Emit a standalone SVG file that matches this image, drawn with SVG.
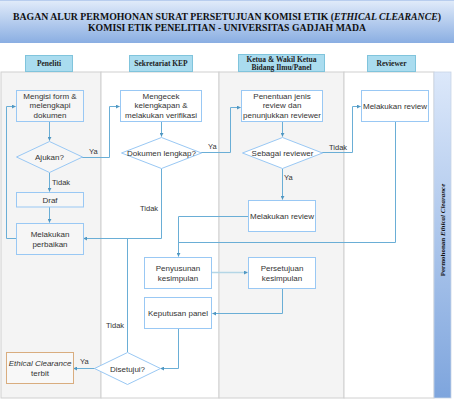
<svg xmlns="http://www.w3.org/2000/svg" width="454" height="400" viewBox="0 0 454 400">
<defs>
<linearGradient id="gBanner" x1="0" y1="0" x2="0" y2="1"><stop offset="0" stop-color="#e2ecfa"/><stop offset="1" stop-color="#8aaee2"/></linearGradient>
<linearGradient id="gBar" x1="0" y1="0" x2="0" y2="1"><stop offset="0" stop-color="#dce8fa"/><stop offset="1" stop-color="#7ea5dd"/></linearGradient>
<marker id="arr" viewBox="0 0 6 6" refX="5.5" refY="3" markerWidth="4" markerHeight="4" orient="auto"><path d="M0,0 L6,3 L0,6 z" fill="#4f97c2"/></marker>
<marker id="arr2" viewBox="0 0 6 6" refX="5.5" refY="3" markerWidth="2.5" markerHeight="2.5" orient="auto"><path d="M0,0 L6,3 L0,6 z" fill="#4f97c2"/></marker>
<style>
.lane-g{fill:#f4f4f4;stroke:#d0d0d0;stroke-width:1}
.lane-w{fill:#ffffff;stroke:#d0d0d0;stroke-width:1}
.hdr{fill:#aadcef;stroke:#80c4dc;stroke-width:1}
.hdrt{font-family:"Liberation Serif",serif;font-weight:bold;font-size:7.5px;fill:#222;text-anchor:middle}
.box{fill:#ffffff;stroke:#99c8f4;stroke-width:1}
.boxg{fill:#f6f6f6;stroke:#99c8f4;stroke-width:1}
.t{font-family:"Liberation Sans",Arial,sans-serif;font-size:8px;fill:#333;text-anchor:middle}
.lbl{font-family:"Liberation Sans",Arial,sans-serif;font-size:7.5px;fill:#333}
.c{fill:none;stroke:#6aaed6;stroke-width:1}
.ttl{font-family:"Liberation Serif",serif;font-weight:bold;font-size:9.5px;fill:#111;text-anchor:middle}
</style>
</defs>
<g id="banner">
<rect x="0" y="0" width="454" height="43" fill="url(#gBanner)"/>
<line x1="0" y1="0.5" x2="454" y2="0.5" stroke="#b8cdee"/>
<text class="ttl" x="227" y="19.5" textLength="428" lengthAdjust="spacingAndGlyphs">BAGAN ALUR PERMOHONAN SURAT PERSETUJUAN KOMISI ETIK (<tspan font-style="italic">ETHICAL CLEARANCE</tspan>)</text>
<text class="ttl" x="227" y="31" textLength="278" lengthAdjust="spacingAndGlyphs">KOMISI ETIK PENELITIAN - UNIVERSITAS GADJAH MADA</text>
</g>
<g id="lanes">
<rect class="lane-g" x="1" y="72" width="100" height="326"/>
<rect class="lane-w" x="101" y="72" width="118" height="326"/>
<rect class="lane-g" x="219" y="72" width="125" height="326"/>
<rect class="lane-w" x="344" y="72" width="90" height="326"/>
<rect x="434" y="72" width="17" height="326" fill="url(#gBar)" stroke="#c8d4e6" stroke-width="0.8"/>
<text x="444.5" y="230" transform="rotate(-90 444.5 230)" style="font-family:'Liberation Serif',serif;font-weight:bold;font-size:7px;fill:#111;text-anchor:middle">Permohonan <tspan font-style="italic">Ethical Clearance</tspan></text>
</g>
<g id="hdr-peneliti"><rect class="hdr" x="25.5" y="55.5" width="47" height="16"/><text class="hdrt" x="49" y="66">Peneliti</text></g>
<g id="hdr-sekretariat"><rect class="hdr" x="129.5" y="55.5" width="63" height="16"/><text class="hdrt" x="161" y="66">Sekretariat KEP</text></g>
<g id="hdr-ketua"><rect class="hdr" x="238.5" y="54.5" width="86" height="17"/><text class="hdrt" x="281.5" y="61.5">Ketua &amp; Wakil Ketua</text><text class="hdrt" x="281.5" y="70">Bidang Ilmu/Panel</text></g>
<g id="hdr-reviewer"><rect class="hdr" x="367.5" y="55.5" width="48" height="16"/><text class="hdrt" x="391.5" y="66">Reviewer</text></g>

<g id="connectors">
<path class="c" d="M49.5,122 V140.5" marker-end="url(#arr)"/>
<path class="c" d="M82,157.5 H109.5 V106.5 H119.5" marker-end="url(#arr)"/>
<path class="c" d="M49.5,172.5 V191.5" marker-end="url(#arr)"/>
<path class="c" d="M49.5,207 V222.5" marker-end="url(#arr)"/>
<path class="c" d="M16,238.5 H6.5 V106.5 H15.5" marker-end="url(#arr)"/>
<path class="c" d="M161.5,122 V136.5" marker-end="url(#arr)"/>
<path class="c" d="M201,152.5 H230.5 V107.5 H240.5" marker-end="url(#arr)"/>
<path class="c" d="M161.5,168.5 V238.5 H83.5" marker-end="url(#arr)"/>
<path class="c" d="M127.5,352 V238.5"/>
<path class="c" d="M282.5,122 V136.5" marker-end="url(#arr)"/>
<path class="c" d="M322,152.5 H352.5 V106.5 H360.5" marker-end="url(#arr)"/>
<path class="c" d="M282.5,168.5 V199.5" marker-end="url(#arr)"/>
<path class="c" d="M395.5,122 V242.5 H178.5"/>
<path class="c" d="M248,216.5 H178.5 V256.5" marker-end="url(#arr)"/>
<path d="M212,272.5 H247.5" fill="none" stroke="#b4d6e6" stroke-width="1.6" marker-end="url(#arr2)"/>
<path class="c" d="M282.5,288 V313.5 H212.5" marker-end="url(#arr)"/>
<path class="c" d="M178.5,329 V368.5 H160.5" marker-end="url(#arr)"/>
<path class="c" d="M95,368.5 H73.5" marker-end="url(#arr)"/>
<text class="lbl" x="89" y="154">Ya</text>
<text class="lbl" x="52" y="184.5">Tidak</text>
<text class="lbl" x="208" y="149">Ya</text>
<text class="lbl" x="140" y="211">Tidak</text>
<text class="lbl" x="329" y="150">Tidak</text>
<text class="lbl" x="284" y="180">Ya</text>
<text class="lbl" x="106" y="328">Tidak</text>
<text class="lbl" x="80" y="364">Ya</text>
</g>

<g id="n-mengisi"><rect class="boxg" x="16.5" y="90.5" width="67" height="31"/><text class="t" x="50" y="98.5">Mengisi form &amp;</text><text class="t" x="50" y="108">melengkapi</text><text class="t" x="50" y="117.5">dokumen</text></g>
<g id="n-ajukan"><polygon class="boxg" points="49.5,141.5 82.5,157 49.5,172.5 16.5,157"/><text class="t" x="49.5" y="160">Ajukan?</text></g>
<g id="n-draf"><rect class="boxg" x="16.5" y="192.5" width="67" height="14.5"/><text class="t" x="50" y="202.5">Draf</text></g>
<g id="n-perbaikan"><rect class="boxg" x="16.5" y="223.5" width="67" height="31"/><text class="t" x="50" y="237">Melakukan</text><text class="t" x="50" y="246.5">perbaikan</text></g>
<g id="n-ec"><rect x="6.5" y="352.5" width="67" height="31" fill="#f8f8f8" stroke="#d9ad7f" stroke-width="1"/><text class="t" x="40" y="366" font-style="italic">Ethical Clearance</text><text class="t" x="40" y="375.5">terbit</text></g>
<g id="n-mengecek"><rect class="box" x="120.5" y="90.5" width="81" height="31"/><text class="t" x="161" y="98.5">Mengecek</text><text class="t" x="161" y="108">kelengkapan &amp;</text><text class="t" x="161" y="117.5">melakukan verifikasi</text></g>
<g id="n-lengkap"><polygon class="box" points="161.5,137.5 201.5,153 161.5,168.5 121.5,153"/><text class="t" x="161.5" y="156">Dokumen lengkap?</text></g>
<g id="n-disetujui"><polygon class="box" points="127.5,352.5 160.5,368.5 127.5,384.5 94.5,368.5"/><text class="t" x="127.5" y="371.5">Disetujui?</text></g>
<g id="n-penentuan"><rect class="box" x="241.5" y="90.5" width="81" height="31"/><text class="t" x="282" y="98.5">Penentuan jenis</text><text class="t" x="282" y="108">review dan</text><text class="t" x="282" y="117.5">penunjukkan reviewer</text></g>
<g id="n-sebagai"><polygon class="box" points="282.5,137.5 322.5,153 282.5,168.5 242.5,153"/><text class="t" x="282.5" y="156">Sebagai reviewer</text></g>
<g id="n-review1"><rect class="box" x="361.5" y="90.5" width="67" height="31"/><text class="t" x="395" y="109">Melakukan review</text></g>
<g id="n-review2"><rect class="box" x="248.5" y="200.5" width="67" height="31"/><text class="t" x="282" y="219">Melakukan review</text></g>
<g id="n-penyusunan"><rect class="box" x="144.5" y="257.5" width="67" height="31"/><text class="t" x="178" y="271">Penyusunan</text><text class="t" x="178" y="280.5">kesimpulan</text></g>
<g id="n-persetujuan"><rect class="box" x="248.5" y="257.5" width="67" height="31"/><text class="t" x="282" y="271">Persetujuan</text><text class="t" x="282" y="280.5">kesimpulan</text></g>
<g id="n-keputusan"><rect class="box" x="144.5" y="297.5" width="67" height="31"/><text class="t" x="178" y="316">Keputusan panel</text></g>
</svg>
